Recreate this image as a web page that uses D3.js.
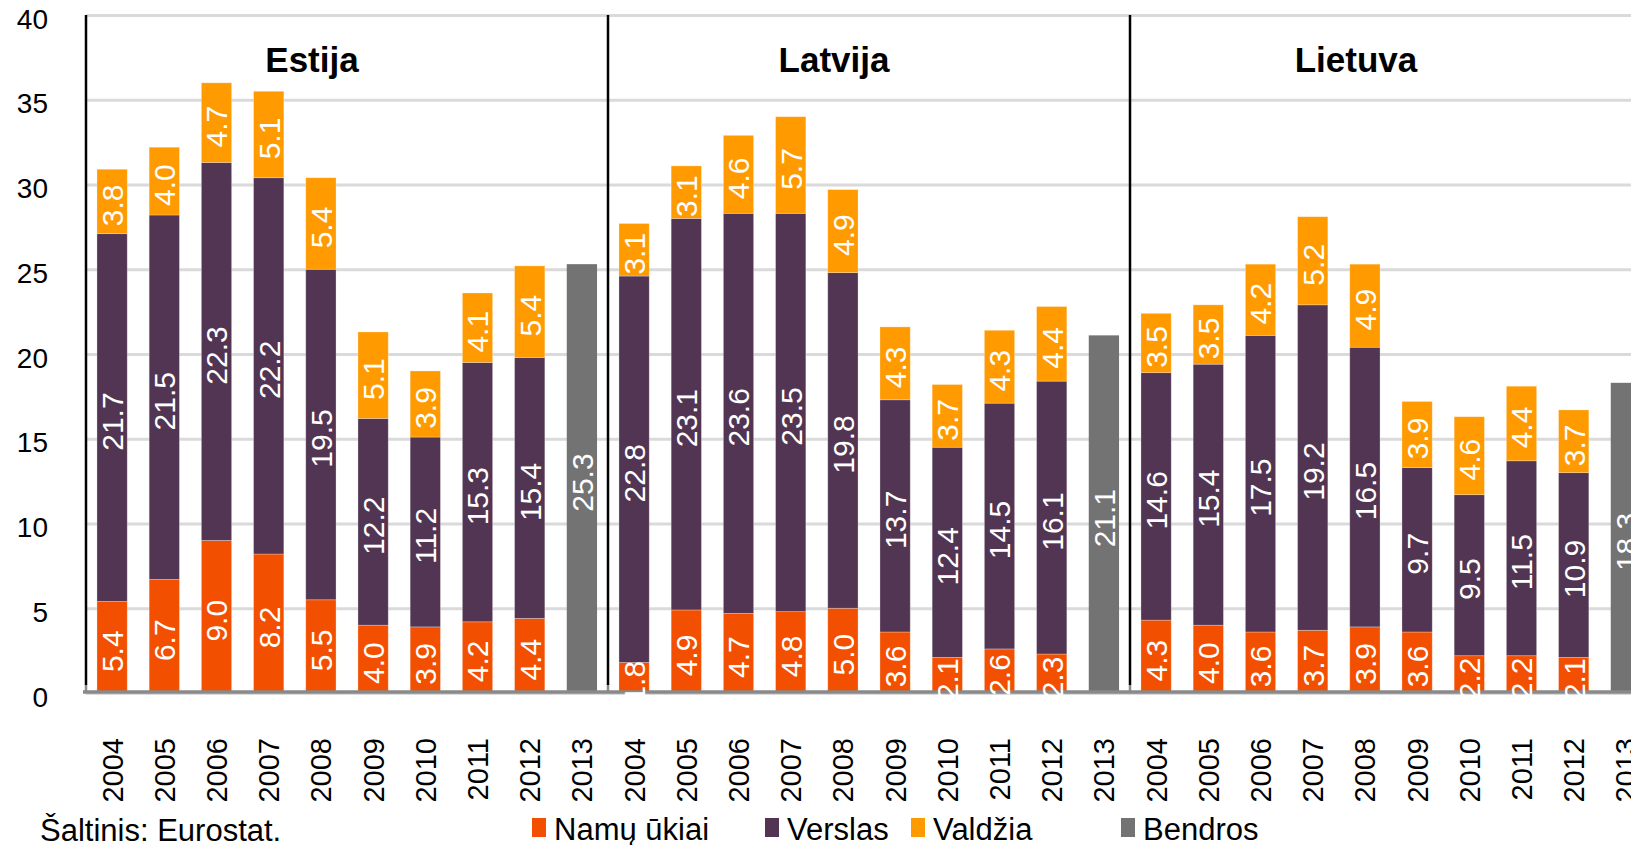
<!DOCTYPE html>
<html>
<head>
<meta charset="utf-8">
<script src="https://cdn.jsdelivr.net/npm/d3@7"></script>
<style>
  body { margin: 0; background: #fff; overflow: hidden; }
  text { font-family: "Liberation Sans", Arial, sans-serif; }
</style>
</head>
<body>
<div id="chart"></div>
<script>
var width = 1631;
var height = 845;

// data
var countries = ["Estija", "Latvija", "Lietuva"];
var years = ["2004", "2005", "2006", "2007", "2008", "2009", "2010", "2011", "2012", "2013"];
var keys = ["namu", "verslas", "valdzia"];
var legendNames = ["Namų ūkiai", "Verslas", "Valdžia", "Bendros"];
var yTicks = [0, 5, 10, 15, 20, 25, 30, 35, 40];

var namu = {
  "Estija":  [5.4, 6.7, 9.0, 8.2, 5.5, 4.0, 3.9, 4.2, 4.4],
  "Latvija": [1.8, 4.9, 4.7, 4.8, 5.0, 3.6, 2.1, 2.6, 2.3],
  "Lietuva": [4.3, 4.0, 3.6, 3.7, 3.9, 3.6, 2.2, 2.2, 2.1]
};
var verslas = {
  "Estija":  [21.7, 21.5, 22.3, 22.2, 19.5, 12.2, 11.2, 15.3, 15.4],
  "Latvija": [22.8, 23.1, 23.6, 23.5, 19.8, 13.7, 12.4, 14.5, 16.1],
  "Lietuva": [14.6, 15.4, 17.5, 19.2, 16.5, 9.7, 9.5, 11.5, 10.9]
};
var valdzia = {
  "Estija":  [3.8, 4.0, 4.7, 5.1, 5.4, 5.1, 3.9, 4.1, 5.4],
  "Latvija": [3.1, 3.1, 4.6, 5.7, 4.9, 4.3, 3.7, 4.3, 4.4],
  "Lietuva": [3.5, 3.5, 4.2, 5.2, 4.9, 3.9, 4.6, 4.4, 3.7]
};
var bendros = { "Estija": 25.3, "Latvija": 21.1, "Lietuva": 18.3 };

var colors = { namu: "#F24F00", verslas: "#523552", valdzia: "#FF9A00", bendros: "#737373" };

var svg = d3.select("#chart").append("svg")
    .attr("width", width)
    .attr("height", height);

var yScale = d3.scaleLinear().domain([0, 40]).range([693, 15]);

var x0 = d3.scaleBand().domain(countries).range([86, 86 + 3 * 522]);
var x1 = d3.scaleBand().domain(years).range([0, x0.bandwidth()])
    .paddingInner(0.42).paddingOuter(0.21);

function stackRows(c) {
  var rows = [];
  for (var i = 0; i < 9; ++i) {
    rows.push({ year: years[i], namu: namu[c][i], verslas: verslas[c][i], valdzia: valdzia[c][i] });
  }
  return d3.stack().keys(keys)(rows);
}
function cx(yr) { return x1(yr) + x1.bandwidth() / 2; }

// gridlines + y labels
var yAxis = d3.axisLeft(yScale).tickValues(yTicks)
    .tickSize(-(width - 86)).tickPadding(38);
var gy = svg.append("g")
    .attr("transform", "translate(86,0)")
    .call(yAxis);
gy.select(".domain").remove();
gy.selectAll(".tick line").attr("stroke", "#DADADA").attr("stroke-width", 3);
gy.selectAll(".tick text")
    .attr("fill", "#000")
    .style("font-size", "28px")
    .attr("dy", "0.47em");

// panel separators (with the little grey tick at the bottom)
svg.selectAll(".sep")
    .data(countries)
    .enter().append("line")
    .attr("class", "sep")
    .attr("x1", function(d) { return x0(d); })
    .attr("x2", function(d) { return x0(d); })
    .attr("y1", 15)
    .attr("y2", 685)
    .attr("stroke", "#000")
    .attr("stroke-width", 2.5);
svg.selectAll(".sepTick")
    .data(countries)
    .enter().append("line")
    .attr("x1", function(d) { return x0(d); })
    .attr("x2", function(d) { return x0(d); })
    .attr("y1", 685)
    .attr("y2", 692)
    .attr("stroke", "#898989")
    .attr("stroke-width", 2.5);

// bars
countries.forEach(function(c) {
  var series = stackRows(c);
  var g = svg.append("g").attr("transform", "translate(" + x0(c) + ",0)");

  series.forEach(function(s) {
    g.selectAll(".bar-" + s.key)
      .data(s)
      .enter().append("rect")
      .attr("x", function(d) { return x1(d.data.year); })
      .attr("y", function(d) { return yScale(d[1]); })
      .attr("width", x1.bandwidth())
      .attr("height", function(d) { return yScale(d[0]) - yScale(d[1]); })
      .attr("fill", colors[s.key])
      .attr("stroke", "rgba(255,255,255,0.35)")
      .attr("stroke-width", 0.8);
  });

  // total bar for 2013
  g.append("rect")
    .attr("x", x1("2013"))
    .attr("y", yScale(bendros[c]))
    .attr("width", x1.bandwidth())
    .attr("height", yScale(0) - yScale(bendros[c]))
    .attr("fill", colors.bendros);

  g.append("text")
    .attr("x", 226)
    .attr("y", 72)
    .attr("text-anchor", "middle")
    .style("font-size", "35px")
    .style("font-weight", "bold")
    .text(c);
});

// baseline
svg.append("line")
  .attr("x1", 83).attr("x2", width)
  .attr("y1", 692).attr("y2", 692)
  .attr("stroke", "#898989")
  .attr("stroke-width", 3.5);

// data labels (drawn above baseline) and year labels
countries.forEach(function(c) {
  var series = stackRows(c);
  var g = svg.append("g").attr("transform", "translate(" + x0(c) + ",0)");

  series.forEach(function(s) {
    g.selectAll(".lbl-" + s.key)
      .data(s)
      .enter().append("text")
      .attr("transform", function(d) {
        return "translate(" + cx(d.data.year) + "," + (yScale((d[0] + d[1]) / 2) + 4) + ") rotate(-90)";
      })
      .attr("text-anchor", "middle")
      .attr("dy", "0.36em")
      .attr("fill", "#fff")
      .style("font-size", "30px")
      .text(function(d) { return (d[1] - d[0]).toFixed(1); });
  });

  g.append("text")
    .attr("transform", "translate(" + cx("2013") + "," + (yScale(bendros[c] / 2) + 4) + ") rotate(-90)")
    .attr("text-anchor", "middle")
    .attr("dy", "0.36em")
    .attr("fill", "#fff")
    .style("font-size", "30px")
    .text(bendros[c].toFixed(1));

  g.selectAll(".yr")
    .data(years)
    .enter().append("text")
    .attr("transform", function(d) { return "translate(" + cx(d) + ",738) rotate(-90)"; })
    .attr("text-anchor", "end")
    .attr("dy", "0.36em")
    .attr("fill", "#000")
    .style("font-size", "29px")
    .text(function(d) { return d; });
});

// source
svg.append("text")
  .attr("x", 40).attr("y", 841)
  .style("font-size", "31px")
  .text("Šaltinis: Eurostat.");

// legend
var legendX = [532, 765, 911, 1121];
var legendColors = [colors.namu, colors.verslas, colors.valdzia, colors.bendros];
var lg = svg.selectAll(".leg")
  .data(legendNames)
  .enter().append("g")
  .attr("transform", function(d, i) { return "translate(" + legendX[i] + ",0)"; });
lg.append("rect")
  .attr("x", 0).attr("y", 818)
  .attr("width", 14).attr("height", 19)
  .attr("fill", function(d, i) { return legendColors[i]; });
lg.append("text")
  .attr("x", 22).attr("y", 840)
  .style("font-size", "31px")
  .text(function(d) { return d; });
</script>
</body>
</html>
